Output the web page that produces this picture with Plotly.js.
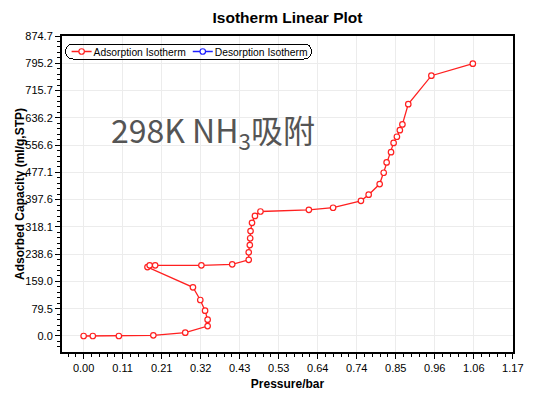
<!DOCTYPE html>
<html>
<head>
<meta charset="utf-8">
<script src="https://cdn.plot.ly/plotly-3.0.1.min.js"></script>
<style>html,body{margin:0;padding:0;background:#fff;}#chart{width:533px;height:399px;}</style>
</head>
<body>
<div id="chart"></div>
<script>
// Adsorption isotherm (pressure in bar, capacity in ml/g STP)
const adsPressure = [0.000, 0.025, 0.096, 0.190, 0.277, 0.338, 0.338, 0.331, 0.318, 0.298,
  0.174, 0.180, 0.195, 0.321, 0.405, 0.450, 0.450, 0.453, 0.454, 0.455,
  0.459, 0.467, 0.482, 0.614, 0.680, 0.756, 0.777, 0.807, 0.818, 0.826,
  0.838, 0.845, 0.854, 0.862, 0.869, 0.885, 0.948, 1.061];
const adsCapacity = [0, 0, 0, 2, 9.6, 29, 47.5, 73.8, 105, 142,
  201, 206, 206, 206, 209, 222, 244, 265, 285, 306,
  330, 350, 363, 368, 374, 394, 412, 443, 476, 506,
  536, 563, 581, 600, 617, 676, 759, 794];
// Desorption isotherm: no points drawn in the reference (legend entry only)
const desPressure = [null];
const desCapacity = [null];

const xTickVals = [0, 0.10636, 0.21273, 0.31909, 0.42545, 0.53182, 0.63818, 0.74455, 0.85091, 0.95727, 1.06364, 1.17];
const xTickText = ["0.00", "0.11", "0.21", "0.32", "0.43", "0.53", "0.64", "0.74", "0.85", "0.96", "1.06", "1.17"];
const yTickVals = [0, 79.52, 159.04, 238.56, 318.08, 397.6, 477.12, 556.64, 636.16, 715.68, 795.2, 874.7];
const yTickText = ["0.0", "79.5", "159.0", "238.6", "318.1", "397.6", "477.1", "556.6", "636.2", "715.7", "795.2", "874.7"];

const traces = [
  {
    x: adsPressure, y: adsCapacity, name: "Adsorption Isotherm",
    type: "scatter", mode: "lines+markers",
    line: {color: "#ff2020", width: 1.3},
    marker: {symbol: "circle", size: 5.5, color: "#ffffff", line: {color: "#ff2020", width: 1.2}}
  },
  {
    x: desPressure, y: desCapacity, name: "Desorption Isotherm",
    type: "scatter", mode: "lines+markers",
    line: {color: "#2020ff", width: 1.3},
    marker: {symbol: "circle", size: 5.5, color: "#ffffff", line: {color: "#2020ff", width: 1.2}}
  }
];

const font = "Liberation Sans, Arial, sans-serif";
const layout = {
  width: 533, height: 399,
  margin: {l: 62, r: 20, t: 36, b: 47, pad: 0},
  paper_bgcolor: "#ffffff", plot_bgcolor: "#ffffff",
  font: {family: font, size: 11, color: "#000"},
  title: {text: "<b>Isotherm Linear Plot</b>", font: {family: font, size: 15.5, color: "#000"},
          x: 0.5, xref: "paper", y: 1 - 18/399, yref: "container", yanchor: "middle"},
  showlegend: true,
  legend: {orientation: "h", x: 0.008, y: 1.0, xanchor: "left", yanchor: "top",
           bgcolor: "rgba(0,0,0,0)", bordercolor: "#000", borderwidth: 1,
           font: {family: font, size: 10.3, color: "#000"}, itemwidth: 30,
           tracegroupgap: 0},
  xaxis: {
    range: [-0.059, 1.1705], tickmode: "array", tickvals: xTickVals, ticktext: xTickText,
    showgrid: true, gridcolor: "#ececec", gridwidth: 1, zeroline: false,
    showline: true, linecolor: "#000", linewidth: 2, mirror: true,
    ticks: "outside", ticklen: 5, tickcolor: "#000", tickwidth: 1,
    minor: {dtick: 1.17/55, tick0: 0, ticks: "outside", ticklen: 3, tickcolor: "#000", showgrid: false},
    tickfont: {family: font, size: 11, color: "#000"},
    title: {text: "<b>Pressure/bar</b>", font: {family: font, size: 12, color: "#000"}, standoff: 6}
  },
  yaxis: {
    range: [-46.7, 874.75], tickmode: "array", tickvals: yTickVals, ticktext: yTickText,
    showgrid: true, gridcolor: "#ececec", gridwidth: 1, zeroline: false,
    showline: true, linecolor: "#000", linewidth: 2, mirror: true,
    ticks: "outside", ticklen: 5, tickcolor: "#000", tickwidth: 1,
    minor: {dtick: 874.7/55, tick0: 0, ticks: "outside", ticklen: 3, tickcolor: "#000", showgrid: false},
    tickfont: {family: font, size: 11, color: "#000"}
  },
  annotations: [{
    text: "298K NH<sub>3</sub>吸附", xref: "paper", yref: "paper",
    x: 0.105, y: 0.70, xanchor: "left", yanchor: "middle", showarrow: false,
    font: {family: "Noto Sans CJK SC, Noto Sans, sans-serif", size: 32, color: "#555555"}
  }, {
    text: "<b>Adsorbed Capacity (ml/g,STP)</b>", xref: "paper", yref: "paper",
    x: 0, y: 0.5, xshift: -42, xanchor: "center", yanchor: "middle", textangle: -90,
    showarrow: false, font: {family: font, size: 12, color: "#000"}
  }]
};

function parseT(el) {
  const m = /translate\(([-\d.e]+)[ ,]*([-\d.e]*)\)/.exec(el.getAttribute("transform") || "");
  return m ? [parseFloat(m[1]), parseFloat(m[2] || 0)] : [0, 0];
}

Plotly.newPlot("chart", traces, layout, {displayModeBar: false, staticPlot: true}).then(function () {
  const leg = document.querySelector(".legend");
  if (!leg) return;
  const bg = leg.querySelector(".bg");
  const items = leg.querySelectorAll(".traces");
  // compact legend symbols: 20px line, marker in its middle, text right after
  items.forEach(function (it) {
    it.querySelectorAll(".legendlines path").forEach(function (p) { p.setAttribute("d", "M5,0h20"); });
    it.querySelectorAll(".legendpoints path").forEach(function (p) { p.setAttribute("transform", "translate(15,0)"); });
    const t = it.querySelector(".legendtext");
    if (t) t.setAttribute("x", 27);
  });
  if (items.length === 2 && bg) {
    const p1 = parseT(items[0]), p2 = parseT(items[1]);
    const tb1 = items[0].querySelector(".legendtext").getBBox();
    const tb2 = items[1].querySelector(".legendtext").getBBox();
    const x2 = p1[0] + tb1.x + tb1.width + 2;
    items[1].setAttribute("transform", "translate(" + x2 + "," + p2[1] + ")");
    const left = p1[0] - 1;
    const right = x2 + tb2.x + tb2.width + 4;
    bg.setAttribute("x", left);
    bg.setAttribute("y", p1[1] - 7.5);
    bg.setAttribute("width", right - left);
    bg.setAttribute("height", 15);
    bg.setAttribute("rx", 7); bg.setAttribute("ry", 7);
  }
});
</script>
</body>
</html>
